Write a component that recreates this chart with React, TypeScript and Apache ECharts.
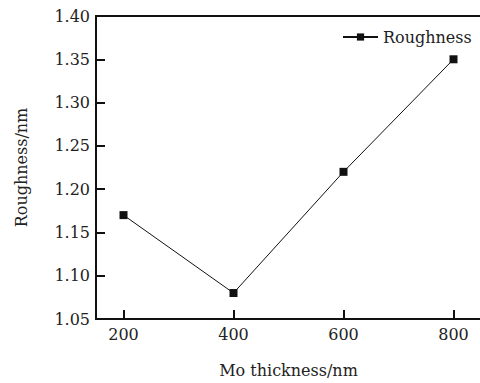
import React, { useEffect, useRef } from "react";
import * as echarts from "echarts";

const thickness = [200, 400, 600, 800];
const roughness = [1.17, 1.08, 1.22, 1.35];
const xTicks = [200, 400, 600, 800];
const seriesName = "Roughness";
const xName = "Mo thickness/nm";
const yName = "Roughness/nm";

const FONT = "DejaVu Serif";

export default function App() {
  const ref = useRef<HTMLDivElement>(null);
  useEffect(() => {
    if (!ref.current) return;
    const chart = echarts.init(ref.current, null, { renderer: "svg" });
    chart.setOption({
      animation: false,
      backgroundColor: "#fff",
      grid: {
        left: 96,
        top: 16,
        width: 385,
        height: 311,
        show: true,
        borderColor: "#111",
        borderWidth: 2,
      },
      legend: {
        data: [seriesName],
        left: 342,
        top: 29,
        padding: 0,
        itemWidth: 35,
        itemHeight: 9,
        itemGap: 4,
        textStyle: { fontFamily: FONT, fontSize: 16, color: "#222" },
      },
      xAxis: {
        type: "value",
        min: 150,
        max: 850,
        name: xName,
        nameLocation: "middle",
        nameGap: 43,
        nameTextStyle: { fontFamily: FONT, fontSize: 16, color: "#222" },
        splitLine: { show: false },
        axisLine: { lineStyle: { color: "#111", width: 2 } },
        axisTick: {
          inside: true,
          length: 9,
          customValues: xTicks,
          lineStyle: { color: "#111", width: 2 },
        },
        axisLabel: {
          customValues: xTicks,
          fontFamily: FONT,
          fontSize: 16,
          color: "#222",
          margin: 7,
        },
      },
      yAxis: {
        type: "value",
        min: 1.05,
        max: 1.4,
        interval: 0.05,
        name: yName,
        nameLocation: "middle",
        nameGap: 67,
        nameTextStyle: { fontFamily: FONT, fontSize: 16, color: "#222" },
        splitLine: { show: false },
        axisLine: { lineStyle: { color: "#111", width: 2 } },
        axisTick: { inside: true, length: 9, lineStyle: { color: "#111", width: 2 } },
        axisLabel: {
          fontFamily: FONT,
          fontSize: 16,
          color: "#222",
          margin: 6,
          formatter: (v: number) => v.toFixed(2),
        },
      },
      series: [
        {
          name: seriesName,
          type: "line",
          data: thickness.map((t, i) => [t, roughness[i]]),
          symbol: "rect",
          symbolSize: 8,
          itemStyle: { color: "#111" },
          lineStyle: { color: "#111", width: 1 },
        },
      ],
    });
    return () => chart.dispose();
  }, []);
  return (
    <div
      ref={ref}
      style={{ position: "absolute", left: 0, top: 0, width: 490, height: 383 }}
    />
  );
}
